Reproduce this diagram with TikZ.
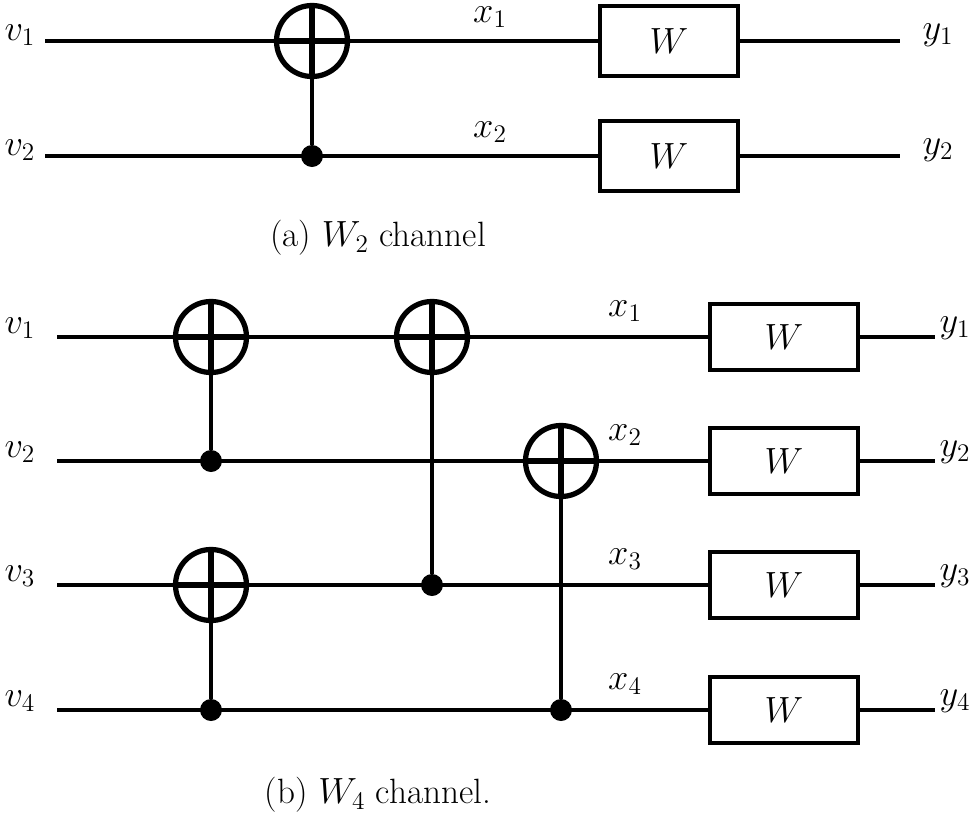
\documentclass[tikz,border=0pt]{standalone}
\begin{document}
\begin{tikzpicture}[x=0.02cm,y=-0.02cm,
  wire/.style={line width=2pt},
  xo/.style={circle,draw,line width=3pt,minimum size=1.42cm,inner sep=0pt},
  dot/.style={circle,fill,minimum size=0.44cm,inner sep=0pt},
  box/.style={draw,line width=2pt,minimum width=2.76cm,minimum height=1.36cm,font=\fontsize{20}{24}\selectfont},
  lab/.style={font=\fontsize{20}{24}\selectfont}]
\useasboundingbox (0,0) rectangle (975,816);
% (a)
\foreach \i/\y in {1/41,2/156}{
  \node[lab] (av\i) at (20,\y-6) {$v_{\i}$};
  \coordinate (as\i) at (45,\y);
  \node[box,minimum height=1.4cm] (aw\i) at (669,\y) {$W$};
  \coordinate (ae\i) at (900,\y);
  \node[lab] (ay\i) at (938,\y-6) {$y_{\i}$};
  \node[lab] (ax\i) at (490,\y-24) {$x_{\i}$};
}
\node[xo] (ax) at (312,41) {};
\node[dot] (ad) at (312,156) {};
\draw[wire] (as1) -- (aw1.west) (aw1.east) -- (ae1);
\draw[wire] (as2) -- (aw2.west) (aw2.east) -- (ae2);
\draw[line width=3pt] (ax.north) -- (ax.south) (ax.west) -- (ax.east);
\draw[wire] (ax.south) -- (ad);
\node[lab] (ca) at (378,238) {(a) $W_2$ channel};
% (b)
\foreach \i/\y in {1/337,2/461,3/585,4/710}{
  \node[lab] (bv\i) at (20,\y-9) {$v_{\i}$};
  \coordinate (bs\i) at (57,\y);
  \node[box,minimum width=2.96cm,minimum height=1.32cm] (bw\i) at (784,\y) {$W$};
  \coordinate (be\i) at (935,\y);
  \node[lab] (by\i) at (955,\y-9) {$y_{\i}$};
  \node[lab] (bx\i) at (625,\y-26) {$x_{\i}$};
  \draw[wire] (bs\i) -- (bw\i.west) (bw\i.east) -- (be\i);
}
\foreach \n/\x/\yx/\yd in {g1/211/337/461,g2/432/337/585,g3/561/461/710,g4/211/585/710}{
  \node[xo,fill=white] (\n x) at (\x,\yx) {};
  \node[dot] (\n d) at (\x,\yd) {};
  \draw[line width=3pt] (\n x.north) -- (\n x.south) (\n x.west) -- (\n x.east);
  \draw[wire] (\n x.south) -- (\n d);
}
\node[lab] (cb) at (378,795) {(b) $W_4$ channel.};
\end{tikzpicture}
\end{document}
